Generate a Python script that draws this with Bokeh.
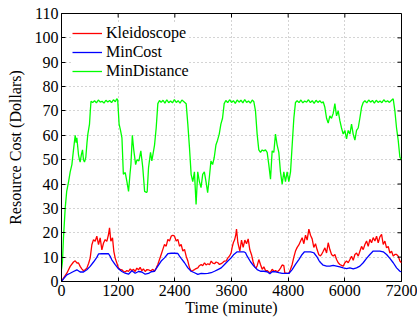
import math
from bokeh.plotting import figure
from bokeh.models import FixedTicker, Range1d, Legend, LegendItem
from bokeh.embed import file_html
from bokeh.resources import INLINE

# ---------------- data ----------------
x_ticks = [0, 1200, 2400, 3600, 4800, 6000, 7200]
y_ticks = [0, 10, 20, 30, 40, 50, 60, 70, 80, 90, 100, 110]

t_kleido = [0, 42, 113, 184, 254, 290, 325, 360, 395, 430, 466, 500, 537, 575, 607, 643, 678, 713, 748, 784,
            819, 855, 890, 925, 960, 996, 1017, 1045, 1080, 1108, 1137, 1172, 1207, 1240, 1278, 1310, 1348,
            1385, 1419, 1455, 1490, 1525, 1560, 1595, 1631, 1665, 1701, 1735, 1772, 1810, 1843, 1870, 1899,
            1935, 1970, 2005, 2040, 2075, 2111, 2146, 2181, 2217, 2252, 2287, 2323, 2358, 2393, 2429, 2464,
            2499, 2534, 2570, 2605, 2640, 2676, 2711, 2746, 2780, 2817, 2850, 2887, 2920, 2958, 2990, 3029,
            3060, 3099, 3135, 3170, 3205, 3240, 3275, 3311, 3345, 3382, 3415, 3452, 3490, 3523, 3560, 3593,
            3614, 3640, 3664, 3690, 3706, 3734, 3777, 3812, 3847, 3883, 3918, 3953, 3988, 4024, 4059, 4094,
            4120, 4144, 4179, 4214, 4250, 4285, 4320, 4355, 4385, 4412, 4440, 4461, 4500, 4532, 4570, 4602,
            4638, 4673, 4708, 4729, 4779, 4814, 4850, 4885, 4920, 4955, 4991, 5026, 5061, 5096, 5132, 5167,
            5202, 5238, 5273, 5308, 5343, 5379, 5414, 5449, 5484, 5507, 5542, 5578, 5613, 5648, 5683, 5719,
            5754, 5789, 5825, 5860, 5895, 5931, 5966, 6001, 6036, 6072, 6107, 6142, 6178, 6213, 6248, 6284,
            6319, 6354, 6389, 6425, 6460, 6495, 6531, 6566, 6601, 6637, 6672, 6707, 6742, 6778, 6813, 6848,
            6884, 6919, 6954, 6990, 7025, 7060, 7096, 7131, 7166, 7200]
kleidoscope = [0, 1.4, 3.4, 6.2, 8, 8.5, 7.6, 7.6, 6.2, 5.2, 4.4, 4.8, 5.5, 7.5, 9.6, 15.1, 17.2, 16.5, 18.6, 15.1,
               17.9, 13, 15.8, 17.2, 16.5, 19.3, 22, 16.5, 17.9, 12.4, 9.6, 7.6, 5.5, 5, 4.8, 4.2, 3.9,
               4.5, 4.1, 5.2, 4.4, 5, 4.1, 5.5, 4.8, 5.8, 4.4, 5.2, 4.1, 4.9, 4.8, 4.5, 4.5,
               5, 4.2, 5.5, 7, 9, 11.1, 13.2, 15.2, 14.5, 17.3, 16.6, 18.6, 19, 18.6, 16.6, 17.3,
               14.5, 15.2, 12.5, 13.2, 10.4, 8.4, 5.6, 4.2, 4.5, 4.9, 5.3, 5.6, 6.5, 7, 6.5, 7.7,
               6.8, 7.3, 6.9, 8.4, 7.5, 7.3, 8, 7.7, 7, 7.3, 7.8, 8.4, 8.5, 9.7, 10.5, 11.8,
               14, 16, 17, 19, 21.5, 16, 12.5, 17, 14, 17, 15.5, 17.5, 13, 11, 8, 6,
               5.5, 6.5, 9, 7, 5, 6, 4.5, 4.5, 4, 3.5, 4.2, 5, 4.2, 4.5, 4, 4.5,
               5.5, 6.8, 6.5, 3.5, 3.3, 3.3, 5, 7, 10, 12.5, 14, 15, 16.5, 18, 15.5, 19,
               17, 21.5, 19, 17.5, 14, 15.5, 13, 11, 10.5, 11.1, 12.4, 13.8, 11.7, 15.9, 13.1, 11.1,
               10.4, 11.1, 9, 7.7, 7, 6.6, 6.3, 7.7, 8.4, 7.7, 9, 10.4, 8.7, 11.1, 11.7, 10.4,
               12.4, 14.4, 13.1, 15.2, 16.6, 14.4, 17.3, 15.9, 18, 16.6, 18.6, 15.9, 18.3, 19.3, 15.2, 16.6,
               13.8, 14.4, 11.7, 12.4, 10.4, 11.1, 11.1, 10.4, 8.4, 7.7]

t_mincost = [0, 42, 113, 184, 254, 325, 395, 466, 537, 607, 678, 748, 784, 855, 925, 996, 1031, 1066, 1137,
             1207, 1278, 1348, 1419, 1490, 1560, 1631, 1701, 1772, 1843, 1899, 1970, 2040, 2111, 2181, 2252,
             2323, 2393, 2464, 2499, 2534, 2605, 2676, 2746, 2817, 2887, 2958, 3029, 3099, 3170, 3240, 3311,
             3382, 3452, 3523, 3593, 3650, 3720, 3791, 3861, 3897, 3932, 4003, 4073, 4144, 4214, 4285, 4355,
             4412, 4461, 4532, 4602, 4673, 4743, 4814, 4885, 4955, 5026, 5096, 5146, 5273, 5343, 5414, 5450,
             5484, 5542, 5613, 5683, 5754, 5825, 5895, 5966, 6036, 6107, 6178, 6248, 6319, 6389, 6460, 6531,
             6601, 6672, 6742, 6813, 6884, 6954, 7025, 7096, 7166, 7200]
mincost = [0, 1.1, 2.75, 3.4, 4.1, 4.8, 3.9, 3.9, 4.8, 6.2, 8, 9.9, 11.3, 11.4, 11.4, 11.4, 10.3, 8.9, 6.9,
           5.2, 4.1, 3.4, 3.0, 4.4, 3.4, 4.1, 3.9, 3.0, 3.3, 4, 4.2, 6.3, 8.4, 9.7, 11.4,
           11.6, 11.6, 11.5, 10.4, 9.5, 7.7, 5.6, 4.2, 3.6, 2.9, 3.3, 3.2, 3.3, 3.6, 4.2, 4.9,
           5.6, 7, 8.4, 9.7, 11.1, 12.2, 12.2, 12.2, 11.8, 10.4, 8.1, 6.3, 4.9, 4.2, 4.2, 4,
           3.2, 4, 4, 3.6, 3.3, 3.3, 3.3, 4.9, 7, 9, 11.1, 12.2, 12.2, 11.8, 10, 8.7,
           7.8, 6.7, 6.3, 6.3, 6.6, 6.3, 6, 5.6, 5.3, 5.6, 5.2, 5.6, 6.3, 7.7, 9.5, 11.1,
           12.5, 12.5, 12.5, 12.2, 11.1, 9.5, 7.7, 5.6, 4.2, 3.9]

t_mindist = [0, 20, 42, 78, 110, 150, 184, 220, 254, 290, 310, 325, 345, 360, 380, 395, 420, 445, 465, 487,
             515, 540, 558, 593, 610, 625, 660, 700, 740, 780, 820, 860, 900, 940, 980, 1020, 1060, 1100,
             1140, 1170, 1190, 1220, 1250, 1280, 1310, 1350, 1385, 1420, 1450, 1470, 1500, 1530, 1570, 1600,
             1640, 1680, 1720, 1760, 1800, 1815, 1843, 1885, 1913, 1935, 1970, 2005, 2040, 2075, 2110, 2150,
             2190, 2230, 2270, 2310, 2350, 2390, 2430, 2470, 2510, 2550, 2605, 2640, 2675, 2710, 2745, 2780,
             2815, 2850, 2885, 2920, 2955, 2990, 3025, 3060, 3095, 3130, 3165, 3200, 3235, 3270, 3305, 3340,
             3375, 3410, 3445, 3480, 3520, 3560, 3600, 3640, 3680, 3720, 3760, 3800, 3840, 3880, 3920, 3960,
             4000, 4040, 4073, 4108, 4143, 4178, 4214, 4249, 4284, 4320, 4355, 4390, 4426, 4461, 4496, 4531,
             4567, 4602, 4637, 4673, 4708, 4743, 4778, 4814, 4850, 4885, 4920, 4955, 4990, 5030, 5070, 5110,
             5150, 5190, 5230, 5270, 5310, 5350, 5390, 5430, 5470, 5510, 5542, 5577, 5613, 5648, 5683, 5718,
             5754, 5789, 5824, 5859, 5895, 5930, 5965, 6001, 6036, 6071, 6107, 6142, 6177, 6213, 6248, 6283,
             6318, 6354, 6389, 6425, 6465, 6505, 6545, 6585, 6625, 6665, 6705, 6745, 6785, 6825, 6865, 6905,
             6945, 6989, 7024, 7060, 7095, 7130, 7166, 7200]
mindistance = [5, 8, 18, 30, 37, 41, 45, 48, 54, 60, 57, 59, 55, 52, 50, 49, 52, 54, 50, 49,
               51, 57, 60.5, 64.6, 70, 74, 73.5, 74.2, 73.3, 74.5, 73.6, 74, 73.2, 74.4, 73.7, 74.3, 73.4, 74.6,
               73.8, 75, 74.5, 64.6, 62, 59, 44, 44.7, 41, 37, 44, 48, 60, 54, 48, 50,
               49.5, 53.6, 47, 37, 36.5, 37, 46.7, 53, 49.5, 52, 56, 63, 73, 74.3, 73.5, 74.4,
               73.2, 74.6, 73.4, 74.1, 73.3, 74.7, 73.5, 74.2, 73.2, 74.5, 73.6, 73, 64.6, 55, 44, 41,
               45, 31.6, 45, 41, 38.5, 44, 45, 41, 36.5, 42.6, 49.5, 48, 51, 56, 58, 60.5,
               64.6, 67, 73, 74.3, 73.4, 74.6, 73.5, 74.2, 73.1, 74.5, 73.6, 74.4, 73.3, 74.7, 73.5, 74.1,
               73.2, 74.5, 73.8, 70, 60.5, 54, 53, 54, 53.6, 54, 53, 48, 42, 53.6, 53, 60.5,
               56, 53, 45, 40, 45, 41, 45, 41, 45, 56, 67, 73.5, 74.2, 73.4, 74.5, 73.3,
               74.1, 73.6, 74.6, 73.4, 74.2, 73.1, 74.4, 73.5, 74.2, 73.3, 73.8, 71.5, 67, 65, 68, 67,
               69, 73, 68, 70, 66, 63, 60.5, 62, 58.5, 62, 60.5, 64.6, 60.5, 58, 62, 63,
               67, 71.5, 73.5, 74.2, 73.3, 74.5, 73.6, 74.3, 73.2, 74.4, 73.5, 74.1, 73.4, 74.6, 73.7, 74.2,
               73.5, 74.4, 75, 70, 63, 58, 51, 50]

series_names = ["Kleidoscope", "MinCost", "MinDistance"]
series_colors = ["#ff0000", "#0000ff", "#00ff00"]

FONT = "Liberation Serif"
X_MIN, X_MAX = x_ticks[0], x_ticks[-1]
Y_MIN, Y_MAX = y_ticks[0], y_ticks[-1]

p = figure(width=417, height=321, output_backend="svg", toolbar_location=None,
           x_range=Range1d(X_MIN, X_MAX), y_range=Range1d(Y_MIN, Y_MAX),
           min_border_left=61, min_border_right=16, min_border_top=13, min_border_bottom=40,
           background_fill_color="white", border_fill_color="white")

p.outline_line_color = "black"
p.outline_line_width = 1

for ax in (p.xaxis[0], p.yaxis[0]):
    ax.major_tick_in = 4
    ax.major_tick_out = 0
    ax.minor_tick_line_color = None
    ax.axis_line_color = "black"
    ax.major_tick_line_color = "black"
    ax.major_label_text_font = FONT
    ax.major_label_text_font_size = "16px"
    ax.major_label_text_color = "black"
    ax.axis_label_text_font = FONT
    ax.axis_label_text_font_size = "16px"
    ax.axis_label_text_font_style = "normal"
    ax.axis_label_text_color = "black"

p.xaxis.ticker = FixedTicker(ticks=x_ticks)
p.yaxis.ticker = FixedTicker(ticks=y_ticks)
p.xaxis.axis_label = "Time (minute)"
p.yaxis.axis_label = "Resource Cost (Dollars)"
p.xaxis.major_label_standoff = 3
p.xaxis.axis_label_standoff = 0
p.yaxis.major_label_standoff = 3
p.yaxis.axis_label_standoff = 8

p.grid.grid_line_color = "#a8a8a8"
p.grid.grid_line_dash = "1 3"
p.grid.grid_line_width = 1
p.xgrid.ticker = FixedTicker(ticks=x_ticks)
p.ygrid.ticker = FixedTicker(ticks=y_ticks)

r_k = p.line(t_kleido, kleidoscope, line_color=series_colors[0], line_width=1.3)
r_m = p.line(t_mincost, mincost, line_color=series_colors[1], line_width=1.3)
r_d = p.line(t_mindist, mindistance, line_color=series_colors[2], line_width=1.3)

# inward ticks on the top and right edges of the box (from the tick lists)
p.ray(x=x_ticks, y=[Y_MAX] * len(x_ticks), length=4, length_units="screen",
      angle=-math.pi / 2, line_color="black", line_width=1)
p.ray(x=[X_MAX] * len(y_ticks), y=y_ticks, length=4, length_units="screen",
      angle=math.pi, line_color="black", line_width=1)

legend = Legend(items=[LegendItem(label=series_names[0], renderers=[r_k]),
                       LegendItem(label=series_names[1], renderers=[r_m]),
                       LegendItem(label=series_names[2], renderers=[r_d])],
                location=(11, 201))
legend.border_line_color = None
legend.background_fill_color = "white"
legend.background_fill_alpha = 1.0
legend.label_text_font = FONT
legend.label_text_font_size = "16px"
legend.label_text_color = "black"
legend.glyph_width = 30
legend.glyph_height = 18
legend.label_standoff = 4
legend.label_height = 18
legend.spacing = 1
legend.margin = 0
legend.padding = 0
p.add_layout(legend, "center")

open("out.html", "w").write(file_html(p, INLINE))
